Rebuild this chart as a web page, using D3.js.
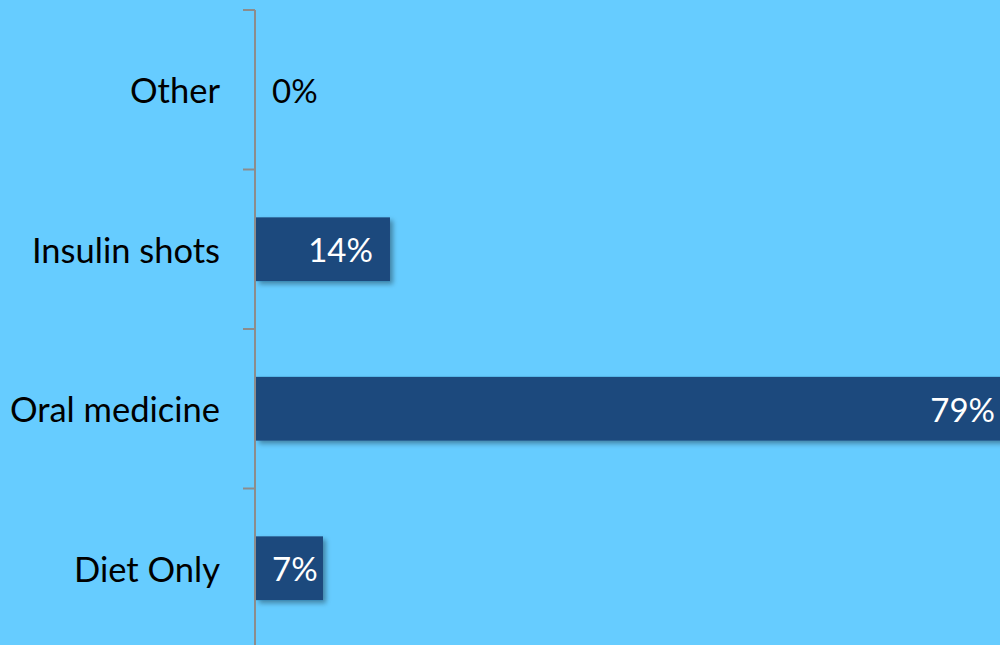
<!DOCTYPE html>
<html>
<head>
<meta charset="utf-8">
<script src="https://cdn.jsdelivr.net/npm/d3@7"></script>
<style>
  html, body { margin: 0; padding: 0; background: #66CCFF; }
  svg { display: block; }
</style>
</head>
<body>
<svg id="chart" width="1000" height="645"></svg>
<script>
// Treatment categories, top to bottom
const categories = ["Other", "Insulin shots", "Oral medicine", "Diet Only"];
// Share of respondents (%)
const values = [0, 14, 79, 7];
const valueLabels = ["0%", "14%", "79%", "7%"];

const width = 1000, height = 645;
const axisX = 256;
const svg = d3.select("#chart");

svg.append("rect").attr("width", width).attr("height", height).attr("fill", "#66CCFF");

const defs = svg.append("defs");
const shadow = defs.append("filter").attr("id", "barShadow")
  .attr("x", "-10%").attr("y", "-20%").attr("width", "130%").attr("height", "160%");
shadow.append("feDropShadow")
  .attr("dx", 3).attr("dy", 3).attr("stdDeviation", 2.5)
  .attr("flood-color", "#000").attr("flood-opacity", 0.35);

const x = d3.scaleLinear().domain([0, 100]).range([axisX, 1213]);
const y = d3.scaleBand().domain(categories).range([10, 648]).paddingInner(0.6).paddingOuter(0.3);

const rows = categories.map((c, i) => ({ cat: c, value: values[i], label: valueLabels[i] }));

// Bars
svg.append("g").selectAll("rect").data(rows.filter(d => d.value > 0)).join("rect")
  .attr("x", x(0))
  .attr("y", d => y(d.cat))
  .attr("width", d => x(d.value) - x(0))
  .attr("height", y.bandwidth())
  .attr("fill", "#1F497D")
  .attr("filter", "url(#barShadow)");

// Category axis with ticks at the band boundaries
const ax = svg.append("g").attr("class", "axis");
const boundaries = d3.range(categories.length + 1).map(i => 10 + i * (648 - 10) / categories.length);
ax.append("line")
  .attr("x1", axisX - 1).attr("x2", axisX - 1)
  .attr("y1", 10).attr("y2", height)
  .attr("stroke", "#8C8C8C").attr("stroke-width", 2);
ax.selectAll("line.tick").data(boundaries).join("line")
  .attr("class", "tick")
  .attr("x1", axisX - 13).attr("x2", axisX - 1)
  .attr("y1", d => d).attr("y2", d => d)
  .attr("stroke", "#8C8C8C").attr("stroke-width", 2);

const font = "Lato, 'Open Sans', sans-serif";

// Category labels
svg.append("g").selectAll("text").data(rows).join("text")
  .attr("x", 220)
  .attr("y", d => y(d.cat) + y.bandwidth() / 2)
  .attr("text-anchor", "end")
  .attr("dominant-baseline", "central")
  .attr("font-family", font)
  .attr("font-size", 34.5)
  .attr("fill", "#000")
  .text(d => d.cat);

// Value labels: inside the bar end, pushed right of the axis when the bar is short
const vl = svg.append("g").selectAll("text").data(rows).join("text")
  .attr("y", d => y(d.cat) + y.bandwidth() / 2)
  .attr("dominant-baseline", "central")
  .attr("font-family", font)
  .attr("font-size", 33)
  .attr("fill", d => d.value > 0 ? "#FFFFFF" : "#000000")
  .text(d => d.label);
vl.each(function(d) {
  const w = this.getComputedTextLength();
  const endX = Math.max(x(d.value) - 17, axisX + 16 + w);
  d3.select(this).attr("x", endX - w);
});
</script>
</body>
</html>
